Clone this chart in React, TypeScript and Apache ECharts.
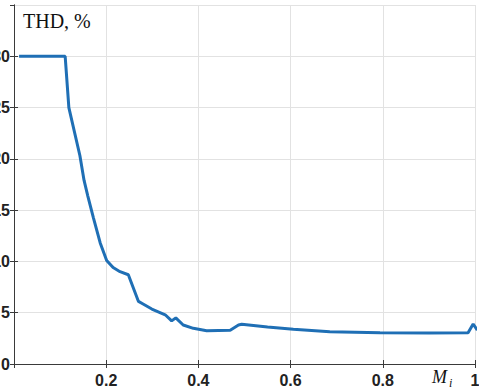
import React, { useEffect, useRef } from "react";
import * as echarts from "echarts";

const miValues = [
  0.011, 0.111, 0.119, 0.143, 0.152, 0.160, 0.172, 0.187, 0.201, 0.215,
  0.230, 0.248, 0.270, 0.280, 0.299, 0.328, 0.342, 0.351, 0.367, 0.389,
  0.418, 0.469, 0.487, 0.494, 0.550, 0.606, 0.685, 0.794, 0.900, 0.985,
  0.996, 1.005,
];
const thdValues = [
  30.0, 30.0, 25.0, 20.3, 17.9, 16.4, 14.3, 11.8, 10.1, 9.4,
  9.0, 8.7, 6.1, 5.85, 5.36, 4.8, 4.2, 4.5, 3.8, 3.48,
  3.25, 3.3, 3.8, 3.87, 3.6, 3.38, 3.15, 3.05, 3.03, 3.05,
  3.9, 3.3,
];
const xTicks = { min: 0, max: 1, interval: 0.2 };
const yTicks = { min: 0, max: 35, interval: 5 };

const axisColor = "#3a3a3a";
const gridColor = "#e2e2e2";
const lineColor = "#1f6fb5";

export default function App() {
  const ref = useRef<HTMLDivElement>(null);
  useEffect(() => {
    if (!ref.current) return;
    const chart = echarts.init(ref.current, undefined, { renderer: "svg" });
    const data = miValues.map((x, i) => [x, thdValues[i]]);
    const labelStyle = {
      fontFamily: "Liberation Sans, Arial, sans-serif",
      fontWeight: "bold" as const,
      fontSize: 16,
      color: "#222",
    };
    chart.setOption({
      animation: false,
      backgroundColor: "#fff",
      grid: {
        left: 14,
        right: 4,
        top: 5,
        bottom: 26,
        containLabel: false,
        outerBoundsMode: "none",
      },
      xAxis: [
        {
          type: "value",
          position: "bottom",
          ...xTicks,
          axisLine: { show: true, lineStyle: { color: axisColor, width: 1 } },
          axisTick: { show: true, inside: true, length: 4, lineStyle: { color: axisColor } },
          splitLine: { show: true, lineStyle: { color: gridColor, width: 1 } },
          axisLabel: {
            ...labelStyle,
            margin: 8,
            showMinLabel: false,
            formatter: (v: number) => String(Number(v.toFixed(1))),
          },
        },
        {
          type: "value",
          position: "top",
          ...xTicks,
          axisLine: { show: true, lineStyle: { color: axisColor, width: 1 } },
          axisTick: { show: true, inside: true, length: 4, lineStyle: { color: axisColor } },
          splitLine: { show: false },
          axisLabel: { show: false },
        },
      ],
      yAxis: [
        {
          type: "value",
          position: "left",
          ...yTicks,
          axisLine: { show: true, lineStyle: { color: axisColor, width: 1 } },
          axisTick: { show: true, inside: true, length: 4, lineStyle: { color: axisColor } },
          splitLine: { show: true, lineStyle: { color: gridColor, width: 1 } },
          axisLabel: { ...labelStyle, margin: 4, showMaxLabel: false },
        },
        {
          type: "value",
          position: "right",
          ...yTicks,
          axisLine: { show: true, lineStyle: { color: axisColor, width: 1 } },
          axisTick: { show: true, inside: true, length: 4, lineStyle: { color: axisColor } },
          splitLine: { show: false },
          axisLabel: { show: false },
        },
      ],
      series: [
        {
          type: "line",
          xAxisIndex: 0,
          yAxisIndex: 0,
          data,
          showSymbol: false,
          clip: false,
          lineStyle: { color: lineColor, width: 3 },
        },
      ],
      graphic: [
        {
          type: "text",
          x: 23,
          y: 11,
          style: {
            text: "THD, %",
            fontFamily: "Liberation Serif, Times New Roman, serif",
            fontSize: 20,
            fill: "#111",
            verticalAlign: "top",
          },
        },
        {
          type: "text",
          x: 432,
          y: 368,
          style: {
            text: "M",
            fontFamily: "Liberation Serif, Times New Roman, serif",
            fontStyle: "italic",
            fontSize: 18,
            fill: "#111",
            verticalAlign: "top",
          },
        },
        {
          type: "text",
          x: 449,
          y: 377,
          style: {
            text: "i",
            fontFamily: "Liberation Serif, Times New Roman, serif",
            fontStyle: "italic",
            fontSize: 12,
            fill: "#111",
            verticalAlign: "top",
          },
        },
      ],
    });
    return () => chart.dispose();
  }, []);
  return (
    <div
      ref={ref}
      style={{ position: "fixed", left: 0, top: 0, width: 479, height: 390 }}
    />
  );
}
